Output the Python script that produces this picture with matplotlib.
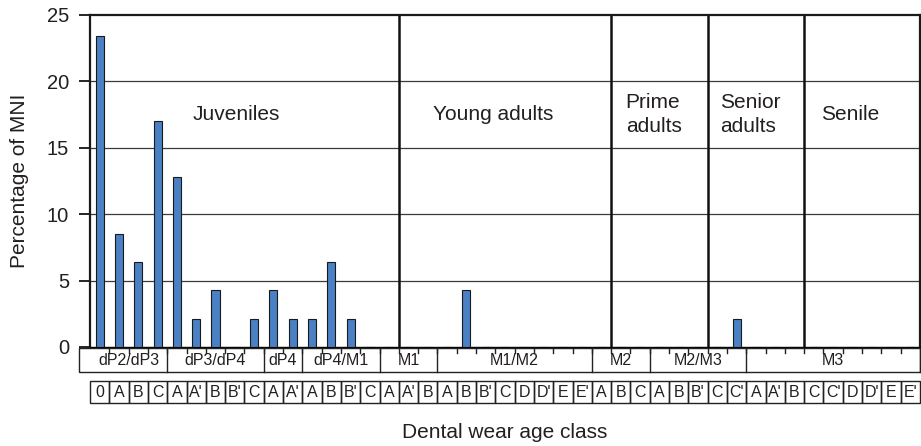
import matplotlib.pyplot as plt
from matplotlib.patches import Rectangle
import numpy as np

plt.rcParams['font.family'] = ['Liberation Sans', 'DejaVu Sans']
txt = '#231f20'

# wear stages grouped by tooth eruption/wear class
groups = ['dP2/dP3', 'dP3/dP4', 'dP4', 'dP4/M1', 'M1', 'M1/M2', 'M2', 'M2/M3', 'M3']
stages = [['0', 'A', 'B', 'C'],
          ['A', "A'", 'B', "B'", 'C'],
          ['A', "A'"],
          ['A', 'B', "B'", 'C'],
          ['A', "A'", 'B'],
          ['A', 'B', "B'", 'C', 'D', "D'", 'E', "E'"],
          ['A', 'B', 'C'],
          ['A', 'B', "B'", 'C', "C'"],
          ['A', "A'", 'B', 'C', "C'", 'D', "D'", 'E', "E'"]]

percent = [23.40, 8.51, 6.38, 17.02,
           12.77, 2.13, 4.26, 0, 2.13,
           4.26, 2.13,
           2.13, 6.38, 2.13, 0,
           0, 0, 0,
           0, 4.26, 0, 0, 0, 0, 0, 0,
           0, 0, 0,
           0, 0, 0, 0, 2.13,
           0, 0, 0, 0, 0, 0, 0, 0, 0]

age_classes = ['Juveniles', 'Young adults', 'Prime\nadults', 'Senior\nadults', 'Senile']
age_breaks = [16, 27, 32, 37]
age_label_x = [7.6, 20.9, 29.2, 34.2, 39.4]

labels = [s for g in stages for s in g]
n = len(labels)
x = np.arange(n) + 0.5

W, H = 921, 446
fig = plt.figure(figsize=(W / 100, H / 100), dpi=100)
ax = fig.add_axes([90 / W, (H - 347) / H, 830 / W, 332 / H])

ax.bar(x, percent, width=0.42, color='#4a80c4', edgecolor='#1a1a1a', linewidth=0.8, zorder=3)
for v in [5, 10, 15, 20]:
    ax.axhline(v, color='#3a3a3a', lw=0.9, zorder=1)
for b in age_breaks:
    ax.axvline(b, color='#111111', lw=1.8, zorder=2)

ax.set_xlim(0, n)
ax.set_ylim(0, 25)
ax.set_yticks([0, 5, 10, 15, 20, 25])
ax.set_xticks([])
ax.tick_params(axis='y', direction='out', length=8, width=1.2, labelsize=14.5, pad=7, labelcolor=txt)
for s in ['top', 'left', 'right']:
    ax.spines[s].set_linewidth(1.6)
    ax.spines[s].set_color('#1a1a1a')
ax.spines['bottom'].set_linewidth(1.0)

for name, xp in zip(age_classes, age_label_x):
    ax.text(xp, 17.5, name, ha='center', va='center', multialignment='left',
            fontsize=15, color=txt, linespacing=1.3)

# category rows under the axis
ax2 = fig.add_axes([90 / W, (H - 405) / H, 830 / W, 57 / H])
ax2.set_xlim(0, n)
ax2.set_ylim(405, 348)
ax2.axis('off')

ax2.add_patch(Rectangle((-0.57, 348), n + 0.57, 24, fill=False, edgecolor='#222222', lw=1.0, clip_on=False))
for i in range(1, n):
    ax2.plot([i, i], [348, 353], color='#222222', lw=1.0, clip_on=False)

start = 0
for g, st in zip(groups, stages):
    end = start + len(st)
    ax2.plot([end, end], [348, 372], color='#222222', lw=1.0, clip_on=False)
    ax2.text((start + end) / 2, 360.5, g, ha='center', va='center', fontsize=11.5, color=txt)
    start = end

for i, lab in enumerate(labels):
    ax2.add_patch(Rectangle((i, 381), 1, 22, fill=False, edgecolor='#222222', lw=1.0, clip_on=False))
    ax2.text(i + 0.5, 392.5, lab, ha='center', va='center', fontsize=11.5, color=txt)

fig.text(505 / W, 1 - 433 / H, 'Dental wear age class', ha='center', va='center', fontsize=15, color=txt)
fig.text(19.5 / W, 1 - 181 / H, 'Percentage of MNI', ha='center', va='center', rotation=90, fontsize=15, color=txt)

fig.savefig('out.png', dpi=100)
